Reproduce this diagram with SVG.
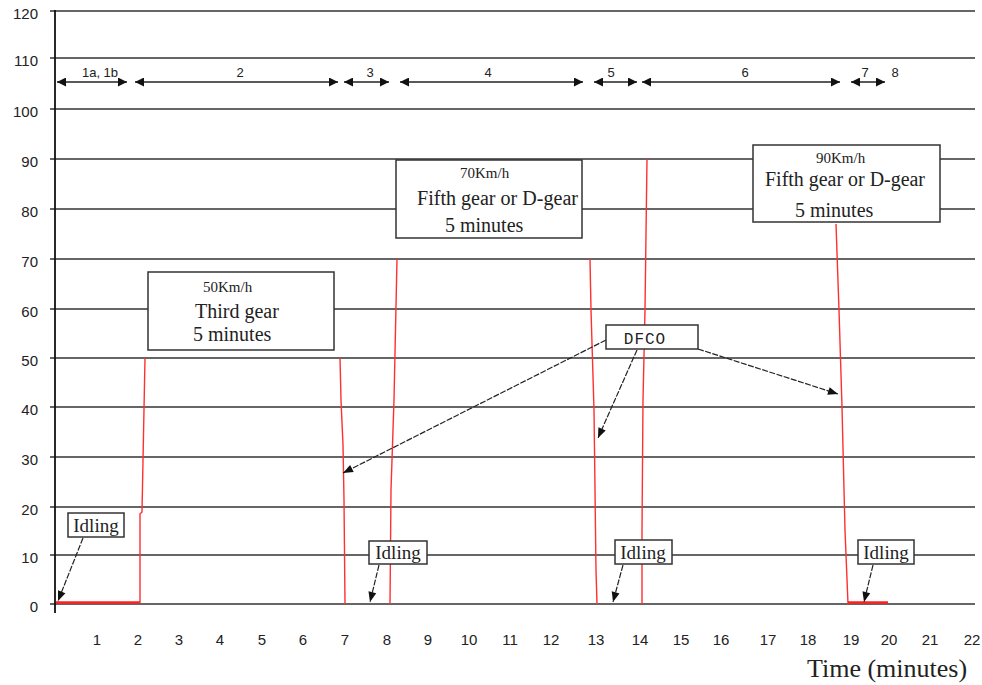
<svg xmlns="http://www.w3.org/2000/svg" width="982" height="685" viewBox="0 0 982 685">
<defs>
<style>
.grid{stroke:#333;stroke-width:1.5;fill:none}
.axis{stroke:#111;stroke-width:1.8;fill:none}
.red{stroke:#ff3030;stroke-width:1.4;fill:none}
.redt{stroke:#ff2020;stroke-width:2.5;fill:none}
.lab{font-family:"Liberation Sans",Arial,sans-serif;font-size:15px;fill:#222}
.seg{font-family:"Liberation Sans",Arial,sans-serif;font-size:13px;fill:#222}
.box{fill:#fff;stroke:#333;stroke-width:1.5}
.bt{font-family:"Liberation Serif","Times New Roman",serif;font-size:20px;fill:#222}
.bs{font-family:"Liberation Serif","Times New Roman",serif;font-size:15px;fill:#222}
.it{font-family:"Liberation Serif","Times New Roman",serif;font-size:19px;fill:#222}
.mono{font-family:"Liberation Mono","Courier New",monospace;font-size:16px;fill:#222}
.sl{stroke:#222;stroke-width:1.3;fill:none}
.ptr{stroke:#222;stroke-width:1.2;fill:none;stroke-dasharray:6,1.5}
</style>
<marker id="ah" viewBox="0 0 10 10" refX="10" refY="5" markerWidth="9" markerHeight="9" markerUnits="userSpaceOnUse" orient="auto-start-reverse">
<path d="M0,0 L10,5 L0,10 z" fill="#111"/>
</marker>
<marker id="ap" viewBox="0 0 10 10" refX="10" refY="5" markerWidth="14" markerHeight="10" markerUnits="userSpaceOnUse" orient="auto">
<path d="M0,1 L10,5 L0,9 z" fill="#111"/>
</marker>
</defs>
<rect width="982" height="685" fill="#fff"/>

<g id="gridlines">
<line class="grid" x1="50" y1="11" x2="975" y2="11"/>
<line class="grid" x1="50" y1="58" x2="975" y2="58"/>
<line class="grid" x1="50" y1="109" x2="975" y2="109"/>
<line class="grid" x1="50" y1="159" x2="975" y2="159"/>
<line class="grid" x1="50" y1="209" x2="975" y2="209"/>
<line class="grid" x1="50" y1="259" x2="975" y2="259"/>
<line class="grid" x1="50" y1="309" x2="975" y2="309"/>
<line class="grid" x1="50" y1="358" x2="975" y2="358"/>
<line class="grid" x1="50" y1="407" x2="975" y2="407"/>
<line class="grid" x1="50" y1="457" x2="975" y2="457"/>
<line class="grid" x1="50" y1="507" x2="975" y2="507"/>
<line class="grid" x1="50" y1="555" x2="975" y2="555"/>
<line class="grid" x1="50" y1="604" x2="975" y2="604"/>
<line class="axis" x1="55" y1="10" x2="55" y2="613"/>
</g>

<g id="y-labels" class="lab" text-anchor="end">
<text x="38" y="19">120</text>
<text x="38" y="66">110</text>
<text x="38" y="117">100</text>
<text x="38" y="167">90</text>
<text x="38" y="217">80</text>
<text x="38" y="267">70</text>
<text x="38" y="317">60</text>
<text x="38" y="366">50</text>
<text x="38" y="415">40</text>
<text x="38" y="465">30</text>
<text x="38" y="515">20</text>
<text x="38" y="563">10</text>
<text x="38" y="612">0</text>
</g>

<g id="x-labels" class="lab" text-anchor="middle">
<text x="97" y="645">1</text>
<text x="138" y="645">2</text>
<text x="179" y="645">3</text>
<text x="220" y="645">4</text>
<text x="262" y="645">5</text>
<text x="303" y="645">6</text>
<text x="345" y="645">7</text>
<text x="387" y="645">8</text>
<text x="428" y="645">9</text>
<text x="469" y="645">10</text>
<text x="510" y="645">11</text>
<text x="551" y="645">12</text>
<text x="596" y="645">13</text>
<text x="640" y="645">14</text>
<text x="681" y="645">15</text>
<text x="721" y="645">16</text>
<text x="768" y="645">17</text>
<text x="808" y="645">18</text>
<text x="851" y="645">19</text>
<text x="889" y="645">20</text>
<text x="930" y="645">21</text>
<text x="972" y="645">22</text>
</g>
<text id="x-title" x="807" y="677" style="font-family:'Liberation Serif','Times New Roman',serif;font-size:26px;fill:#222">Time (minutes)</text>

<g id="speed-trace">
<line class="redt" x1="56" y1="602.5" x2="140" y2="602.5"/>
<polyline class="red" points="140,603 140,514 142,512 145,358"/>
<polyline class="red" points="340,358 341,400 343,445 344,500 345,604"/>
<polyline class="red" points="390,604 391,490 394,400 397,259"/>
<polyline class="red" points="590,259 591,310 594,410 596,570 597,604"/>
<polyline class="red" points="642,604 642,530 643,400 645,310 647,159"/>
<polyline class="red" points="836,224 839,310 842,407 845,530 848,604"/>
<line class="redt" x1="848" y1="602.5" x2="888" y2="602.5"/>
</g>

<g id="phase-arrows">
<line class="sl" x1="57" y1="82" x2="127" y2="82" marker-start="url(#ah)" marker-end="url(#ah)"/>
<line class="sl" x1="135" y1="82" x2="338" y2="82" marker-start="url(#ah)" marker-end="url(#ah)"/>
<line class="sl" x1="344" y1="82" x2="389" y2="82" marker-start="url(#ah)" marker-end="url(#ah)"/>
<line class="sl" x1="400" y1="82" x2="583" y2="82" marker-start="url(#ah)" marker-end="url(#ah)"/>
<line class="sl" x1="594" y1="82" x2="637" y2="82" marker-start="url(#ah)" marker-end="url(#ah)"/>
<line class="sl" x1="642" y1="82" x2="840" y2="82" marker-start="url(#ah)" marker-end="url(#ah)"/>
<line class="sl" x1="851" y1="82" x2="885" y2="82" marker-start="url(#ah)" marker-end="url(#ah)"/>
<g class="seg" text-anchor="middle">
<text x="100" y="77">1a, 1b</text>
<text x="240" y="77">2</text>
<text x="370" y="77">3</text>
<text x="488" y="77">4</text>
<text x="611" y="77">5</text>
<text x="745" y="77">6</text>
<text x="865" y="77">7</text>
<text x="895" y="77">8</text>
</g>
</g>

<g id="box-50">
<rect class="box" x="148" y="272" width="186" height="78"/>
<text class="bs" x="203" y="292">50Km/h</text>
<text class="bt" x="195" y="318">Third gear</text>
<text class="bt" x="193" y="341">5 minutes</text>
</g>

<g id="box-70">
<rect class="box" x="396" y="160" width="186" height="78"/>
<text class="bs" x="460" y="178">70Km/h</text>
<text class="bt" x="417" y="205" textLength="161" lengthAdjust="spacingAndGlyphs">Fifth gear or D-gear</text>
<text class="bt" x="445" y="232">5 minutes</text>
</g>

<g id="box-90">
<rect class="box" x="753" y="145" width="187" height="77"/>
<text class="bs" x="816" y="163">90Km/h</text>
<text class="bt" x="765" y="186" textLength="160" lengthAdjust="spacingAndGlyphs">Fifth gear or D-gear</text>
<text class="bt" x="795" y="217">5 minutes</text>
</g>

<g id="connectors">
<line class="ptr" x1="606" y1="340" x2="343" y2="473" marker-end="url(#ap)"/>
<line class="ptr" x1="637" y1="350" x2="598" y2="438" marker-end="url(#ap)"/>
<line class="ptr" x1="698" y1="349" x2="838" y2="394" marker-end="url(#ap)"/>
<line class="ptr" x1="83" y1="538" x2="58" y2="601" marker-end="url(#ap)"/>
<line class="ptr" x1="379" y1="565" x2="370" y2="602" marker-end="url(#ap)"/>
<line class="ptr" x1="623" y1="565" x2="613" y2="602" marker-end="url(#ap)"/>
<line class="ptr" x1="873" y1="565" x2="864" y2="602" marker-end="url(#ap)"/>
</g>

<g id="dfco">
<rect class="box" x="606" y="325" width="92" height="24"/>
<text class="mono" x="645" y="344" text-anchor="middle" letter-spacing="1">DFCO</text>
</g>

<g id="idling-1">
<rect class="box" x="68" y="513" width="56" height="24"/>
<text class="it" x="96" y="532" text-anchor="middle">Idling</text>
</g>
<g id="idling-2">
<rect class="box" x="369" y="541" width="58" height="23"/>
<text class="it" x="398" y="559" text-anchor="middle">Idling</text>
</g>
<g id="idling-3">
<rect class="box" x="615" y="540" width="57" height="24"/>
<text class="it" x="643" y="559" text-anchor="middle">Idling</text>
</g>
<g id="idling-4">
<rect class="box" x="858" y="540" width="56" height="24"/>
<text class="it" x="886" y="559" text-anchor="middle">Idling</text>
</g>
</svg>
